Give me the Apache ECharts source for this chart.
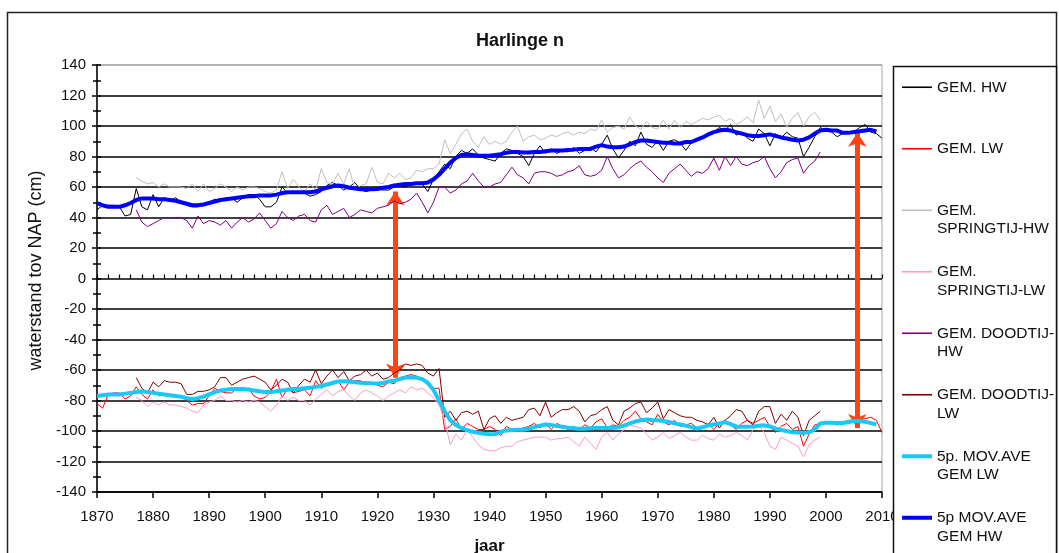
<!DOCTYPE html>
<html>
<head>
<meta charset="utf-8">
<script src="https://cdn.jsdelivr.net/npm/echarts@6/dist/echarts.min.js"></script>
<style>
  html, body { margin: 0; padding: 0; background: #fff; }
  #chart { width: 1059px; height: 553px; }
</style>
</head>
<body>
<div id="chart"></div>
<script>
// Harlingen: yearly mean water levels relative to NAP (cm)
const FONT = 'Liberation Sans, Arial, sans-serif';

const xTicks = { min: 1870, max: 2010, step: 10 };
const yTicks = { min: -140, max: 140, step: 20 };

// GEM. HW, 1870-2010
const gemHWStart = 1870;
const gemHW = [
  45,48,48,48,47,41,42,59,47,45,
  55,47,53,51,53,50,48,47,47,49,
  50,52,51,53,53,50,53,55,55,52,
  47,47,50,60,56,57,57,56,54,55,
  57,61,63,61,58,60,63,58,57,58,
  59,58,58,60,61,60,62,63,62,57,
  65,70,75,72,80,84,82,85,81,79,
  78,77,82,85,84,82,80,74,82,87,
  82,85,82,84,83,86,82,84,86,83,
  88,94,85,79,84,90,87,96,88,86,
  90,84,90,91,89,84,89,91,92,95,
  96,99,97,101,94,96,92,90,98,95,
  87,95,92,96,93,92,80,86,93,99,
  97,96,93,95,96,96,99,101,96,95,
  92
];

// GEM. LW, 1870-2010
const gemLWStart = 1870;
const gemLW = [
  -82,-85,-76,-75,-75,-79,-77,-71,-76,-79,
  -73,-77,-76,-76,-77,-77,-80,-83,-82,-82,
  -77,-72,-74,-75,-75,-72,-73,-72,-77,-79,
  -78,-74,-66,-78,-72,-75,-74,-73,-77,-67,
  -72,-69,-68,-67,-73,-68,-67,-67,-69,-68,
  -70,-71,-68,-69,-65,-64,-63,-64,-66,-70,
  -72,-72,-99,-97,-92,-99,-95,-97,-99,-99,
  -97,-99,-103,-97,-99,-100,-98,-97,-95,-98,
  -95,-99,-95,-97,-99,-97,-99,-96,-98,-94,
  -92,-98,-96,-97,-93,-91,-87,-92,-94,-96,
  -89,-94,-96,-93,-97,-96,-95,-98,-98,-95,
  -99,-95,-93,-96,-99,-95,-93,-95,-93,-91,
  -97,-101,-97,-95,-99,-97,-110,-102,-96,-95,
  -95,-95,-96,-95,-95,-94,-92,-92,-91,-93,
  -101
];

// GEM. SPRINGTIJ-HW, 1877-1999
const springHWStart = 1877;
const springHW = [
  66,64,62,
  63,60,62,60,60,60,59,62,57,62,
  57,59,62,60,57,60,58,60,60,59,
  57,56,58,70,59,65,60,57,62,58,
  72,63,62,69,62,72,58,61,62,73,
  63,62,69,66,69,65,66,71,70,72,
  72,75,91,82,88,95,98,90,86,93,
  88,90,88,90,96,100,90,93,94,91,
  92,94,93,95,96,94,96,95,98,97,
  104,96,99,100,98,106,100,98,103,99,
  98,104,98,104,99,103,101,103,105,104,
  106,107,103,105,101,103,106,102,117,105,
  113,103,108,99,105,109,100,106,109,104
];

// GEM. SPRINGTIJ-LW, 1877-1999
const springLWStart = 1877;
const springLW = [
  -78,-80,-84,
  -81,-83,-81,-83,-83,-84,-85,-87,-88,-83,
  -81,-80,-77,-80,-80,-81,-80,-81,-80,-81,
  -84,-87,-83,-77,-80,-78,-80,-80,-83,-79,
  -76,-73,-77,-74,-73,-77,-80,-75,-73,-75,
  -77,-80,-77,-75,-73,-75,-71,-73,-72,-75,
  -78,-83,-93,-109,-102,-106,-99,-104,-109,-112,
  -113,-113,-111,-110,-110,-107,-106,-105,-104,-104,
  -104,-106,-105,-105,-104,-107,-110,-104,-108,-112,
  -104,-101,-106,-102,-99,-96,-97,-98,-102,-106,
  -104,-101,-105,-103,-101,-104,-106,-106,-103,-105,
  -106,-102,-104,-103,-101,-103,-106,-99,-96,-101,
  -110,-112,-104,-106,-108,-110,-117,-109,-106,-104
];

// GEM. DOODTIJ-HW, 1877-1999
const neapHWStart = 1877;
const neapHW = [
  45,37,34,
  36,38,40,40,40,40,38,33,41,36,
  38,37,35,38,33,37,40,37,39,43,
  38,33,36,44,40,38,41,42,38,37,
  45,48,42,44,46,40,42,45,44,43,
  46,47,48,51,49,50,52,56,50,43,
  50,60,60,56,58,62,64,69,64,60,
  60,62,63,68,73,68,66,62,69,70,
  70,69,67,68,70,71,74,68,67,68,
  71,80,72,66,68,72,75,77,73,70,
  66,63,69,72,75,71,67,70,69,72,
  79,71,80,74,80,75,74,76,77,80,
  72,66,70,76,78,79,69,74,77,83
];

// GEM. DOODTIJ-LW, 1877-1999
const neapLWStart = 1877;
const neapLW = [
  -65,-72,-75,
  -68,-71,-67,-68,-68,-69,-76,-76,-74,-74,
  -73,-71,-65,-65,-70,-68,-66,-65,-64,-66,
  -68,-73,-70,-66,-68,-75,-70,-66,-68,-60,
  -69,-64,-60,-65,-61,-67,-64,-63,-60,-64,
  -62,-66,-65,-62,-60,-56,-57,-56,-57,-62,
  -64,-59,-91,-87,-93,-88,-87,-89,-87,-99,
  -92,-90,-95,-91,-93,-92,-91,-86,-85,-90,
  -81,-91,-88,-86,-86,-84,-87,-94,-90,-89,
  -86,-84,-93,-96,-87,-85,-82,-81,-88,-85,
  -81,-92,-86,-88,-90,-91,-91,-93,-94,-96,
  -91,-98,-93,-90,-86,-87,-93,-96,-87,-84,
  -84,-95,-89,-93,-87,-91,-103,-93,-90,-87
];

// 5p. MOV.AVE GEM LW, 1870-2009
const movLWStart = 1870;
const movLW = [
  -77,-76.5,-76,-76,-76,-75.5,-75,-74.5,-74,-74.5,
  -75,-75.5,-76,-76.5,-77,-77.5,-78.5,-79,-78.5,-77.5,
  -76,-74.5,-73.5,-73,-72.5,-72.5,-72.5,-72.8,-73.5,-74,
  -74.5,-74.5,-74,-73.5,-73,-72.5,-72.5,-72,-71.7,-71,
  -70.5,-69.5,-68.5,-67.5,-67.3,-67.5,-68,-68.4,-68.5,-68.7,
  -68.8,-68.5,-67.5,-67,-66,-65,-64.7,-65,-66,-68.5,
  -73,-80,-87,-93,-96,-98,-99.5,-100.5,-101.2,-101.8,
  -102.2,-102,-100.5,-99.6,-99.3,-99.2,-99.2,-98.5,-97.5,-96.5,
  -95.7,-96,-96.8,-97.2,-97.8,-98.2,-98.6,-98.5,-98.2,-98,
  -98,-98,-98,-97.5,-96.5,-95,-93.8,-93,-92.5,-92.8,
  -93,-93.4,-94,-95,-95.7,-96.5,-97.5,-98.4,-97.5,-96.5,
  -95.7,-95,-94.2,-95.5,-97,-97.2,-97.2,-97,-96.6,-96.3,
  -97,-98.5,-99.3,-100,-100.8,-101,-101.2,-100.8,-99,-95,
  -94.6,-94.6,-94.8,-94.8,-94,-93.5,-93.5,-94,-94.8,-95.7
];

// 5p MOV.AVE GEM HW, 1870-2009
const movHWStart = 1870;
const movHW = [
  49.5,48,47,47,47,48,49.5,51.5,52.5,52.5,
  52.5,52,52,51.5,51,50,49,48,48,48.5,
  49.5,50.5,51.5,52,52.5,53,53.5,54,54,54.5,
  54.5,54.5,55,56,56.5,56.5,56.5,56.5,56.5,57,
  58.5,59.5,60.5,61,60.5,59.5,59,58.5,58.5,58.5,
  58.7,59.5,60,61,61.5,62,62,62.5,62.5,63,
  65,68,72,76,79,81,81.5,81,80.5,80.5,
  80.5,81,81.5,82.5,83,83,82.7,82.7,83,83,
  83.5,84,84,84,84.3,84.5,85,85,85,86.5,
  87.5,86.5,86,86,86.5,88,89.5,90.5,90.5,90,
  89.5,89,89,88.5,88.5,89.5,89.5,91,92.5,94.5,
  96,97,97.5,97,96,95,94,93.5,93.5,94,
  94.5,93.5,92.5,91.8,91,90.5,91,92.5,95,97,
  97.5,97,97,95.5,95.5,96,96.5,97,97.5,96.5
];

// Spread between high and low water, before and after the 1932 closure
const spreadArrows = [
  { year: 1923.2, top: 57, bottom: -65 },
  { year: 2005.6, top: 95.5, bottom: -98 }
];

const seriesNames = [
  'GEM. HW', 'GEM. LW', 'GEM.\nSPRINGTIJ-HW', 'GEM.\nSPRINGTIJ-LW',
  'GEM. DOODTIJ-\nHW', 'GEM. DOODTIJ-\nLW', '5p. MOV.AVE\nGEM LW', '5p MOV.AVE\nGEM HW'
];
const seriesColors = ['#000000', '#ff0000', '#c0c0c0', '#ff99cc', '#800080', '#800000', '#19c8f5', '#0000ff'];
const seriesWidths = [1, 1, 1, 1, 1, 1, 4, 4];
const legendWidths = [1.6, 1.6, 1.6, 1.6, 1.6, 1.6, 4, 4];
const seriesData = [
  [gemHWStart, gemHW], [gemLWStart, gemLW], [springHWStart, springHW], [springLWStart, springLW],
  [neapHWStart, neapHW], [neapLWStart, neapLW], [movLWStart, movLW], [movHWStart, movHW]
];

function pairs(start, values) {
  return values.map((v, i) => [start + i, v]);
}

const chart = echarts.init(document.getElementById('chart'), null, { renderer: 'canvas' });

const series = seriesNames.map((name, k) => ({
  name: name,
  type: 'line',
  data: pairs(seriesData[k][0], seriesData[k][1]),
  showSymbol: false,
  symbol: 'none',
  smooth: false,
  lineStyle: { color: seriesColors[k], width: seriesWidths[k] },
  itemStyle: { color: seriesColors[k] },
  z: 2 + k,
  silent: true
}));

series[series.length - 1].markLine = {
  silent: true,
  symbol: ['arrow', 'arrow'],
  symbolSize: [14, 14],
  label: { show: false },
  lineStyle: { color: '#ff4412', width: 5, type: 'solid', opacity: 1 },
  emphasis: { disabled: true },
  data: spreadArrows.map(a => [{ coord: [a.year, a.top] }, { coord: [a.year, a.bottom] }])
};

const ySplitColors = [];
for (let v = yTicks.min; v <= yTicks.max; v += yTicks.step) {
  ySplitColors.push(v === yTicks.max ? '#a8a8a8' : '#000000');
}

const option = {
  animation: false,
  backgroundColor: '#ffffff',
  textStyle: { fontFamily: FONT },
  title: {
    text: 'Harlinge n',
    left: 515, top: 27, textAlign: 'center',
    textStyle: { fontFamily: FONT, fontSize: 18, fontWeight: 'bold', color: '#111' }
  },
  grid: {
    left: 97, right: 177, top: 65, bottom: 61,
    outerBoundsMode: 'none', containLabel: false,
    show: true, borderColor: '#a8a8a8', borderWidth: 1, backgroundColor: 'transparent'
  },
  legend: {
    orient: 'vertical', left: 900, top: 59.5, padding: 0,
    itemGap: 6, itemWidth: 30, itemHeight: 14,
    selectedMode: false, z: 60,
    itemStyle: { color: 'rgba(0,0,0,0)', borderColor: 'rgba(0,0,0,0)', borderWidth: 0 },
    data: seriesNames.map((n, k) => ({ name: n, lineStyle: { width: legendWidths[k], color: seriesColors[k] } })),
    formatter: name => '\n' + name + (name.indexOf('\n') >= 0 ? '' : '\n'),
    textStyle: { fontFamily: FONT, fontSize: 15.5, lineHeight: 18.5, color: '#111' }
  },
  xAxis: [
    {
      type: 'value', min: xTicks.min, max: xTicks.max, interval: xTicks.step,
      name: 'jaar', nameLocation: 'middle', nameGap: 46,
      nameTextStyle: { fontFamily: FONT, fontSize: 17, fontWeight: 'bold', color: '#111' },
      axisLine: { show: true, onZero: false, lineStyle: { color: '#000', width: 1.5 } },
      axisTick: { show: true, length: 6, lineStyle: { color: '#000', width: 1.5 } },
      axisLabel: { margin: 17, fontFamily: FONT, fontSize: 15, color: '#111', formatter: v => String(v) },
      splitLine: { show: false }
    },
    {
      type: 'value', min: xTicks.min, max: xTicks.max, interval: 2, position: 'bottom',
      axisLine: { show: false },
      axisTick: { show: true, inside: true, length: 4, lineStyle: { color: '#000', width: 1.2 } },
      axisLabel: { show: false },
      splitLine: { show: false }
    }
  ],
  yAxis: [
    {
      type: 'value', min: yTicks.min, max: yTicks.max, interval: yTicks.step,
      name: 'waterstand tov NAP (cm)', nameLocation: 'middle', nameGap: 46,
      nameTextStyle: { fontFamily: FONT, fontSize: 18, color: '#111', padding: [0, 0, 0, 16] },
      axisLine: { show: true, onZero: false, lineStyle: { color: '#000', width: 1.5 } },
      axisTick: { show: true, length: 5, lineStyle: { color: '#000', width: 1.5 } },
      minorTick: { show: true, splitNumber: 2, length: 4, lineStyle: { color: '#000', width: 1.5 } },
      axisLabel: { margin: 11, fontFamily: FONT, fontSize: 15, color: '#111' },
      splitLine: { show: true, lineStyle: { color: ySplitColors, width: 1.5 } }
    },
    {
      type: 'value', min: yTicks.min, max: yTicks.max, interval: 10, position: 'left',
      axisLine: { show: false },
      axisTick: { show: true, inside: true, length: 4, lineStyle: { color: '#000', width: 1.5 } },
      axisLabel: { show: false },
      splitLine: { show: false }
    }
  ],
  graphic: [
    {
      type: 'rect', z: 1, silent: true,
      shape: { x: 7.5, y: 12.5, width: 1049, height: 560 },
      style: { fill: 'none', stroke: '#222', lineWidth: 1.5 }
    },
    {
      type: 'rect', z: 50, silent: true,
      shape: { x: 893.5, y: 66.5, width: 163, height: 520 },
      style: { fill: '#ffffff', stroke: '#111', lineWidth: 1.5 }
    }
  ],
  series: series
};

chart.setOption(option);
</script>
</body>
</html>
